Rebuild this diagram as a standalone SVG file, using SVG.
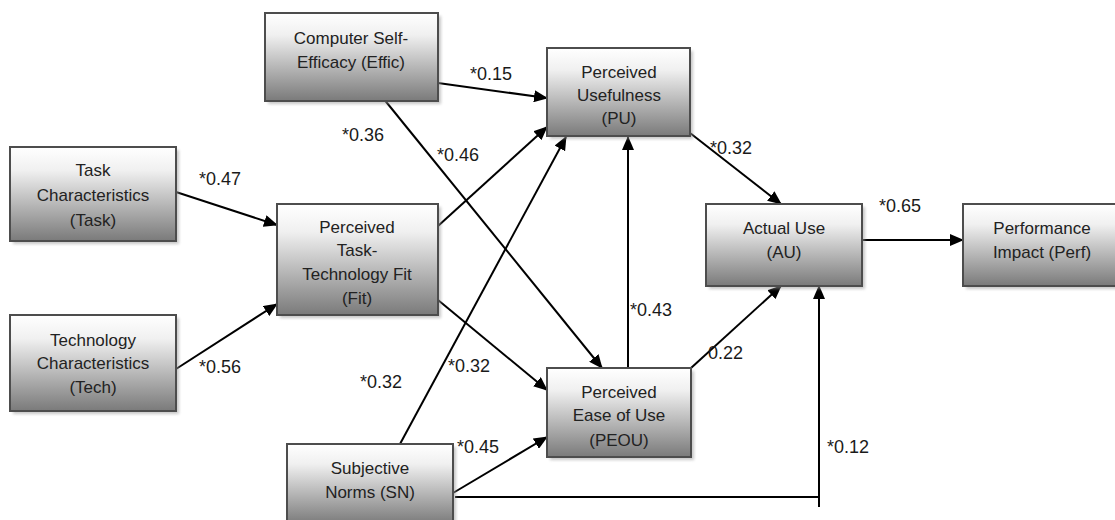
<svg xmlns="http://www.w3.org/2000/svg" width="1115" height="520" viewBox="0 0 1115 520">
<defs>
<linearGradient id="g" x1="0" y1="0" x2="0" y2="1">
<stop offset="0" stop-color="#ffffff"/>
<stop offset="0.25" stop-color="#f0f0f0"/>
<stop offset="1" stop-color="#7a7a7a"/>
</linearGradient>
<filter id="sh" x="-10%" y="-10%" width="130%" height="130%">
<feGaussianBlur stdDeviation="1.5"/>
</filter>
<marker id="ah" markerUnits="userSpaceOnUse" markerWidth="14" markerHeight="12" refX="13" refY="6" orient="auto">
<path d="M0,0 L14,6 L0,12 z" fill="#000"/>
</marker>
</defs>
<style>
.box{fill:url(#g);stroke:#4d4d4d;stroke-width:2}
.shadow{fill:#9a9a9a;opacity:0.55;filter:url(#sh)}
.t{font-family:"Liberation Sans",Arial,sans-serif;font-size:17px;fill:#222;text-anchor:middle}
.lbl{font-family:"Liberation Sans",Arial,sans-serif;font-size:18px;fill:#1a1a1a}
.c{fill:none;stroke:#000;stroke-width:2}
.a{marker-end:url(#ah)}
</style>
<rect width="1115" height="520" fill="#fff"/>

<g id="connectors">
<line class="c a" x1="438" y1="83" x2="547" y2="98"/>
<line class="c a" x1="383" y1="98" x2="602" y2="368"/>
<line class="c a" x1="176" y1="192" x2="277" y2="225"/>
<line class="c a" x1="176" y1="369" x2="277" y2="304"/>
<line class="c a" x1="438" y1="226" x2="547" y2="127"/>
<line class="c a" x1="438" y1="300" x2="547" y2="390"/>
<line class="c a" x1="400" y1="444" x2="566" y2="137"/>
<line class="c a" x1="453" y1="493" x2="547" y2="437"/>
<polyline class="c" points="455,497 819,497"/>
<line class="c a" x1="819" y1="507" x2="819" y2="286"/>
<line class="c a" x1="628" y1="368" x2="628" y2="137"/>
<line class="c a" x1="691" y1="368" x2="781" y2="286"/>
<line class="c a" x1="690" y1="133" x2="781" y2="204"/>
<line class="c a" x1="862" y1="240" x2="963" y2="240"/>
</g>

<g id="labels">
<text class="lbl" x="470" y="80">*0.15</text>
<text class="lbl" x="342" y="141">*0.36</text>
<text class="lbl" x="437" y="161">*0.46</text>
<text class="lbl" x="199" y="185">*0.47</text>
<text class="lbl" x="199" y="373">*0.56</text>
<text class="lbl" x="360" y="388">*0.32</text>
<text class="lbl" x="448" y="372">*0.32</text>
<text class="lbl" x="457" y="453">*0.45</text>
<text class="lbl" x="630" y="316">*0.43</text>
<text class="lbl" x="708" y="359">0.22</text>
<text class="lbl" x="710" y="154">*0.32</text>
<text class="lbl" x="879" y="212">*0.65</text>
<text class="lbl" x="827" y="453">*0.12</text>
</g>

<g id="node-effic">
<rect class="shadow" x="268" y="16" width="173" height="88"/>
<rect class="box" x="265" y="13" width="173" height="88"/>
<text class="t" x="351" y="44">Computer Self-</text>
<text class="t" x="351" y="68">Efficacy (Effic)</text>
</g>

<g id="node-task">
<rect class="shadow" x="13" y="150" width="166" height="94"/>
<rect class="box" x="10" y="147" width="166" height="94"/>
<text class="t" x="93" y="176">Task</text>
<text class="t" x="93" y="201">Characteristics</text>
<text class="t" x="93" y="226">(Task)</text>
</g>

<g id="node-tech">
<rect class="shadow" x="13" y="318" width="166" height="96"/>
<rect class="box" x="10" y="315" width="166" height="96"/>
<text class="t" x="93" y="346">Technology</text>
<text class="t" x="93" y="369">Characteristics</text>
<text class="t" x="93" y="393">(Tech)</text>
</g>

<g id="node-fit">
<rect class="shadow" x="280" y="207" width="161" height="111"/>
<rect class="box" x="277" y="204" width="161" height="111"/>
<text class="t" x="357" y="233">Perceived</text>
<text class="t" x="357" y="256">Task-</text>
<text class="t" x="357" y="280">Technology Fit</text>
<text class="t" x="357" y="304">(Fit)</text>
</g>

<g id="node-sn">
<rect class="shadow" x="290" y="447" width="166" height="80"/>
<rect class="box" x="287" y="444" width="166" height="80"/>
<text class="t" x="370" y="474">Subjective</text>
<text class="t" x="370" y="498">Norms (SN)</text>
</g>

<g id="node-pu">
<rect class="shadow" x="550" y="51" width="143" height="88"/>
<rect class="box" x="547" y="48" width="143" height="88"/>
<text class="t" x="619" y="78">Perceived</text>
<text class="t" x="619" y="101">Usefulness</text>
<text class="t" x="619" y="124">(PU)</text>
</g>

<g id="node-peou">
<rect class="shadow" x="550" y="371" width="144" height="89"/>
<rect class="box" x="547" y="368" width="144" height="89"/>
<text class="t" x="619" y="398">Perceived</text>
<text class="t" x="619" y="421">Ease of Use</text>
<text class="t" x="619" y="446">(PEOU)</text>
</g>

<g id="node-au">
<rect class="shadow" x="709" y="207" width="156" height="82"/>
<rect class="box" x="706" y="204" width="156" height="82"/>
<text class="t" x="784" y="234">Actual Use</text>
<text class="t" x="784" y="258">(AU)</text>
</g>

<g id="node-perf">
<rect class="shadow" x="966" y="207" width="158" height="82"/>
<rect class="box" x="963" y="204" width="158" height="82"/>
<text class="t" x="1042" y="234">Performance</text>
<text class="t" x="1042" y="258">Impact (Perf)</text>
</g>
</svg>
